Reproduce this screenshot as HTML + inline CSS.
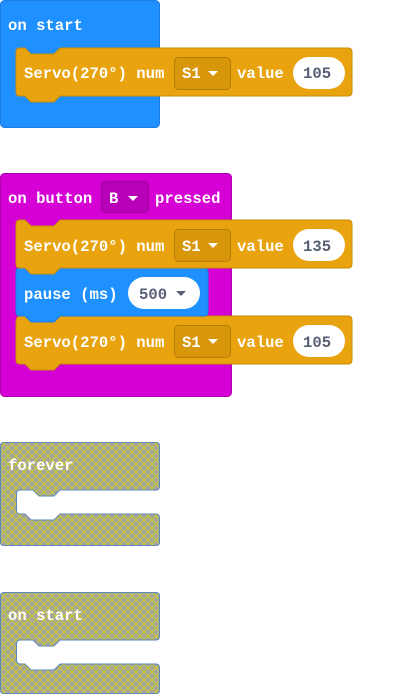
<!DOCTYPE html>
<html><head><meta charset="utf-8"><style>
html,body{margin:0;padding:0;background:#fff;width:404px;height:695px;overflow:hidden}
text{font-family:"Liberation Mono",monospace;font-size:15.6px;font-weight:bold}
.w{fill:#fff}.d{fill:#575e75}
</style></head><body>
<svg width="404" height="695" viewBox="0 0 404 695" xmlns="http://www.w3.org/2000/svg">
<defs>
<pattern id="hp" width="8" height="8" patternUnits="userSpaceOnUse">
<rect width="8" height="8" fill="#a5a5a0"/>
<path d="M0,0 L8,8 M8,0 L0,8" stroke="#cccc22" stroke-width="1"/>
</pattern>
</defs>
<!-- on start -->
<rect x="0.5" y="0.5" width="159" height="127" rx="4" fill="#1e90ff" stroke="#1a7fe0"/>
<text x="8" y="30" class="w">on start</text>
<path d="M16,52 Q16,48 20,48 L25,48 L31,54 L54,54 L60,48 L348,48 Q352,48 352,52 L352,92 Q352,96 348,96 L60,96 L54,102 L31,102 L25,96 L20,96 Q16,96 16,92 Z" fill="#e9a30e" stroke="#c98c0a"/>
<text x="24" y="78" class="w">Servo(270°) num</text>
<rect x="174.5" y="57.5" width="56" height="32" rx="4" fill="#d8960b" stroke="#b57d08"/>
<text x="182" y="78" class="w">S1</text><path d="M208,71 L218,71 L213,76 Z" fill="#fff"/>
<text x="237" y="78" class="w">value</text>
<rect x="293" y="57" width="52" height="32" rx="16" fill="#fff"/>
<text x="303" y="78" class="d">105</text>

<!-- on button B pressed -->
<rect x="0.5" y="173.5" width="231" height="223" rx="4" fill="#d400d4" stroke="#b000b0"/>
<text x="8" y="203" class="w">on button</text>
<rect x="101.5" y="181.5" width="47" height="31" rx="4" fill="#b800b8" stroke="#9a009a"/>
<text x="109" y="203" class="w">B</text><path d="M128,196 L138,196 L133,201 Z" fill="#fff"/>
<text x="155" y="203" class="w">pressed</text>

<path d="M16,324 Q16,316 20,316 L25,316 L31,322 L54,322 L60,316 L348,316 Q352,316 352,320 L352,360 Q352,364 348,364 L60,364 L54,370 L31,370 L25,364 L20,364 Q16,364 16,360 Z" fill="#e9a30e" stroke="#c98c0a"/>
<text x="24" y="347" class="w">Servo(270°) num</text>
<rect x="174.5" y="325.5" width="56" height="32" rx="4" fill="#d8960b" stroke="#b57d08"/>
<text x="182" y="347" class="w">S1</text><path d="M208,339 L218,339 L213,344 Z" fill="#fff"/>
<text x="237" y="347" class="w">value</text>
<rect x="293" y="325" width="52" height="32" rx="16" fill="#fff"/>
<text x="303" y="347" class="d">105</text>

<path d="M16,272 Q16,268 20,268 L25,268 L31,274 L54,274 L60,268 L204,268 Q208,268 208,272 L208,312 Q208,316 204,316 L60,316 L54,322 L31,322 L25,316 L20,316 Q16,316 16,312 Z" fill="#1e90ff" stroke="#1a7fe0"/>
<text x="24" y="299" class="w">pause (ms)</text>
<rect x="128" y="277" width="72" height="32" rx="16" fill="#fff"/>
<text x="139" y="299" class="d">500</text><path d="M176,291 L186,291 L181,296 Z" fill="#575e75"/>

<path d="M16,224 Q16,220 20,220 L25,220 L31,226 L54,226 L60,220 L348,220 Q352,220 352,224 L352,264 Q352,268 348,268 L60,268 L54,274 L31,274 L25,268 L20,268 Q16,268 16,264 Z" fill="#e9a30e" stroke="#c98c0a"/>
<text x="24" y="251" class="w">Servo(270°) num</text>
<rect x="174.5" y="229.5" width="56" height="32" rx="4" fill="#d8960b" stroke="#b57d08"/>
<text x="182" y="251" class="w">S1</text><path d="M208,243 L218,243 L213,248 Z" fill="#fff"/>
<text x="237" y="251" class="w">value</text>
<rect x="293" y="229" width="52" height="32" rx="16" fill="#fff"/>
<text x="303" y="251" class="d">135</text>

<!-- forever -->
<path d="M0.5,446 Q0.5,442.5 4,442.5 L156,442.5 Q159.5,442.5 159.5,446 L159.5,486 Q159.5,490 156,490 L60,490 L54,496 L39,496 L33,490 L20,490 Q16.5,490 16.5,494 L16.5,510 Q16.5,514 20,514 L25,514 L31,520 L54,520 L60,514 L156,514 Q159.5,514 159.5,518 L159.5,542 Q159.5,545.5 156,545.5 L4,545.5 Q0.5,545.5 0.5,542 Z" fill="url(#hp)" stroke="#5b86c0"/>
<text x="8" y="470" class="w">forever</text>

<!-- on start 2 -->
<path d="M0.5,596 Q0.5,592.5 4,592.5 L156,592.5 Q159.5,592.5 159.5,596 L159.5,636 Q159.5,640 156,640 L60,640 L54,646 L39,646 L33,640 L20,640 Q16.5,640 16.5,644 L16.5,660 Q16.5,664 20,664 L25,664 L31,670 L54,670 L60,664 L156,664 Q159.5,664 159.5,668 L159.5,690 Q159.5,693.5 156,693.5 L4,693.5 Q0.5,693.5 0.5,690 Z" fill="url(#hp)" stroke="#5b86c0"/>
<text x="8" y="620" class="w">on start</text>
</svg>
</body></html>
